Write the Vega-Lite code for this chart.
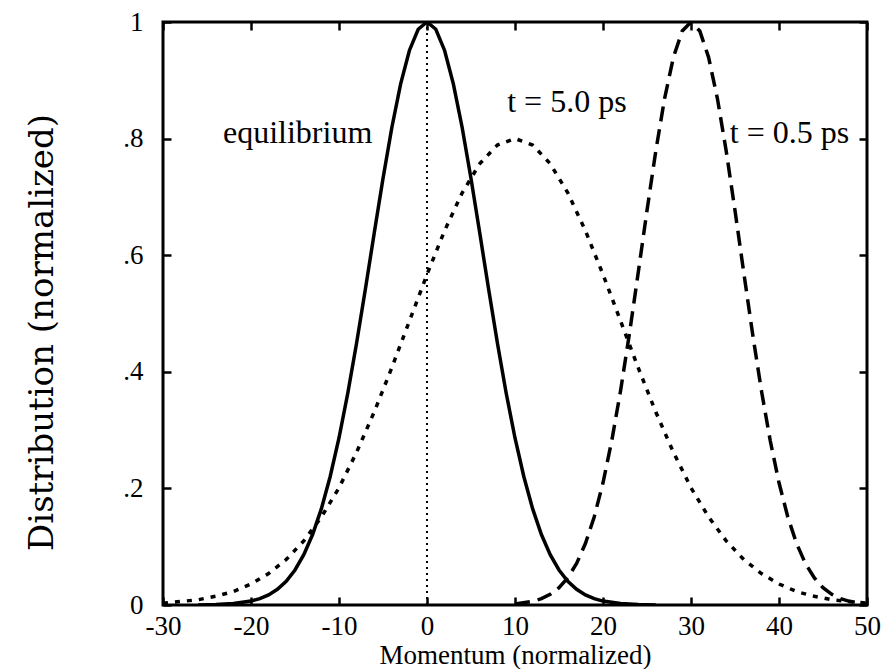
{
  "$schema": "https://vega.github.io/schema/vega-lite/v6.json",
  "autosize": {"type": "none"},
  "padding": {"left": 163, "top": 22, "right": 14, "bottom": 64},
  "width": 704,
  "height": 583,
  "background": "white",
  "config": {
    "view": {"stroke": "black", "strokeWidth": 3},
    "font": "Liberation Serif",
    "text": {"font": "Liberation Serif"},
    "axis": {"domainColor": "black", "domainWidth": 3, "tickColor": "black", "tickWidth": 2.5, "tickSize": -8, "grid": false, "labelFont": "Liberation Serif", "titleFont": "Liberation Serif", "labelColor": "black", "titleColor": "black", "labelFontSize": 22, "titleFontSize": 26, "titleFontWeight": "normal", "labelFlush": false, "labelOverlap": false, "labelBound": false}
  },
  "datasets": {
    "curves": [
      {"s": "eq", "x": -26, "y": 0.0002}, {"s": "eq", "x": -24, "y": 0.0007}, {"s": "eq", "x": -22, "y": 0.0024},
      {"s": "eq", "x": -20, "y": 0.0067}, {"s": "eq", "x": -19, "y": 0.011}, {"s": "eq", "x": -18, "y": 0.0174},
      {"s": "eq", "x": -17, "y": 0.027}, {"s": "eq", "x": -16, "y": 0.0408}, {"s": "eq", "x": -15, "y": 0.0601},
      {"s": "eq", "x": -14, "y": 0.0863}, {"s": "eq", "x": -13, "y": 0.1209}, {"s": "eq", "x": -12, "y": 0.1653},
      {"s": "eq", "x": -11, "y": 0.2204}, {"s": "eq", "x": -10, "y": 0.2865}, {"s": "eq", "x": -9, "y": 0.3633},
      {"s": "eq", "x": -8, "y": 0.4493}, {"s": "eq", "x": -7, "y": 0.542}, {"s": "eq", "x": -6, "y": 0.6376},
      {"s": "eq", "x": -5, "y": 0.7316}, {"s": "eq", "x": -4, "y": 0.8187}, {"s": "eq", "x": -3, "y": 0.8936},
      {"s": "eq", "x": -2, "y": 0.9512}, {"s": "eq", "x": -1, "y": 0.9876}, {"s": "eq", "x": 0, "y": 1.0},
      {"s": "eq", "x": 1, "y": 0.9876}, {"s": "eq", "x": 2, "y": 0.9512}, {"s": "eq", "x": 3, "y": 0.8936},
      {"s": "eq", "x": 4, "y": 0.8187}, {"s": "eq", "x": 5, "y": 0.7316}, {"s": "eq", "x": 6, "y": 0.6376},
      {"s": "eq", "x": 7, "y": 0.542}, {"s": "eq", "x": 8, "y": 0.4493}, {"s": "eq", "x": 9, "y": 0.3633},
      {"s": "eq", "x": 10, "y": 0.2865}, {"s": "eq", "x": 11, "y": 0.2204}, {"s": "eq", "x": 12, "y": 0.1653},
      {"s": "eq", "x": 13, "y": 0.1209}, {"s": "eq", "x": 14, "y": 0.0863}, {"s": "eq", "x": 15, "y": 0.0601},
      {"s": "eq", "x": 16, "y": 0.0408}, {"s": "eq", "x": 17, "y": 0.027}, {"s": "eq", "x": 18, "y": 0.0174},
      {"s": "eq", "x": 19, "y": 0.011}, {"s": "eq", "x": 20, "y": 0.0067}, {"s": "eq", "x": 22, "y": 0.0024},
      {"s": "eq", "x": 24, "y": 0.0007}, {"s": "eq", "x": 26, "y": 0.0002},

      {"s": "t5", "x": -30, "y": 0.003}, {"s": "t5", "x": -28, "y": 0.006}, {"s": "t5", "x": -26, "y": 0.009},
      {"s": "t5", "x": -24, "y": 0.015}, {"s": "t5", "x": -22, "y": 0.023}, {"s": "t5", "x": -20, "y": 0.036},
      {"s": "t5", "x": -18, "y": 0.054}, {"s": "t5", "x": -16, "y": 0.078}, {"s": "t5", "x": -14, "y": 0.11},
      {"s": "t5", "x": -12, "y": 0.151}, {"s": "t5", "x": -10, "y": 0.201}, {"s": "t5", "x": -8, "y": 0.262},
      {"s": "t5", "x": -6, "y": 0.331}, {"s": "t5", "x": -4, "y": 0.407}, {"s": "t5", "x": -2, "y": 0.487},
      {"s": "t5", "x": 0, "y": 0.567}, {"s": "t5", "x": 2, "y": 0.642}, {"s": "t5", "x": 4, "y": 0.707},
      {"s": "t5", "x": 6, "y": 0.757}, {"s": "t5", "x": 8, "y": 0.789}, {"s": "t5", "x": 10, "y": 0.8},
      {"s": "t5", "x": 12, "y": 0.789}, {"s": "t5", "x": 14, "y": 0.757}, {"s": "t5", "x": 16, "y": 0.707},
      {"s": "t5", "x": 18, "y": 0.642}, {"s": "t5", "x": 20, "y": 0.567}, {"s": "t5", "x": 22, "y": 0.487},
      {"s": "t5", "x": 24, "y": 0.407}, {"s": "t5", "x": 26, "y": 0.331}, {"s": "t5", "x": 28, "y": 0.262},
      {"s": "t5", "x": 30, "y": 0.201}, {"s": "t5", "x": 32, "y": 0.151}, {"s": "t5", "x": 34, "y": 0.11},
      {"s": "t5", "x": 36, "y": 0.078}, {"s": "t5", "x": 38, "y": 0.054}, {"s": "t5", "x": 40, "y": 0.036},
      {"s": "t5", "x": 42, "y": 0.023}, {"s": "t5", "x": 44, "y": 0.015}, {"s": "t5", "x": 46, "y": 0.009},
      {"s": "t5", "x": 48, "y": 0.006}, {"s": "t5", "x": 50, "y": 0.003},

      {"s": "t05", "x": 10, "y": 0.0019}, {"s": "t05", "x": 12, "y": 0.0063}, {"s": "t05", "x": 13, "y": 0.0109},
      {"s": "t05", "x": 14, "y": 0.0183}, {"s": "t05", "x": 15, "y": 0.0297}, {"s": "t05", "x": 16, "y": 0.0468},
      {"s": "t05", "x": 17, "y": 0.0713}, {"s": "t05", "x": 18, "y": 0.1054}, {"s": "t05", "x": 19, "y": 0.151},
      {"s": "t05", "x": 20, "y": 0.2096}, {"s": "t05", "x": 21, "y": 0.2821}, {"s": "t05", "x": 22, "y": 0.3679},
      {"s": "t05", "x": 23, "y": 0.4651}, {"s": "t05", "x": 24, "y": 0.5698}, {"s": "t05", "x": 25, "y": 0.6766},
      {"s": "t05", "x": 26, "y": 0.7788}, {"s": "t05", "x": 27, "y": 0.8688}, {"s": "t05", "x": 28, "y": 0.9394},
      {"s": "t05", "x": 29, "y": 0.9845}, {"s": "t05", "x": 30, "y": 1.0}, {"s": "t05", "x": 31, "y": 0.9845},
      {"s": "t05", "x": 32, "y": 0.9394}, {"s": "t05", "x": 33, "y": 0.8688}, {"s": "t05", "x": 34, "y": 0.7788},
      {"s": "t05", "x": 35, "y": 0.6766}, {"s": "t05", "x": 36, "y": 0.5698}, {"s": "t05", "x": 37, "y": 0.4651},
      {"s": "t05", "x": 38, "y": 0.3679}, {"s": "t05", "x": 39, "y": 0.2821}, {"s": "t05", "x": 40, "y": 0.2096},
      {"s": "t05", "x": 41, "y": 0.151}, {"s": "t05", "x": 42, "y": 0.1054}, {"s": "t05", "x": 43, "y": 0.0713},
      {"s": "t05", "x": 44, "y": 0.0468}, {"s": "t05", "x": 45, "y": 0.0297}, {"s": "t05", "x": 46, "y": 0.0183},
      {"s": "t05", "x": 47, "y": 0.0109}, {"s": "t05", "x": 48, "y": 0.0063}, {"s": "t05", "x": 50, "y": 0.0019}
    ],
    "labels": [
      {"label": "equilibrium", "x": -14.7, "y": 0.81},
      {"label": "t = 5.0 ps", "x": 15.9, "y": 0.862},
      {"label": "t = 0.5 ps", "x": 41.2, "y": 0.81}
    ],
    "vline": [{"x": 0, "y0": 0, "y1": 1}]
  },
  "resolve": {"axis": {"x": "independent", "y": "independent"}},
  "layer": [
    {
      "data": {"name": "vline"},
      "mark": {"type": "rule", "color": "black", "strokeWidth": 2, "strokeDash": [2, 4]},
      "encoding": {
        "x": {"field": "x", "type": "quantitative", "scale": {"domain": [-30, 50], "nice": false}, "axis": {"orient": "top", "values": [-30, -20, -10, 0, 10, 20, 30, 40, 50], "labels": false, "title": null, "domain": false}},
        "y": {"field": "y0", "type": "quantitative", "scale": {"domain": [0, 1], "nice": false}, "axis": {"orient": "right", "values": [0, 0.2, 0.4, 0.6, 0.8, 1], "labels": false, "title": null, "domain": false}},
        "y2": {"field": "y1"}
      }
    },
    {
      "data": {"name": "curves"},
      "transform": [{"filter": "datum.s == 'eq'"}],
      "mark": {"type": "line", "color": "black", "strokeWidth": 3.5, "clip": true},
      "encoding": {
        "x": {"field": "x", "type": "quantitative", "scale": {"domain": [-30, 50], "nice": false}, "axis": {"orient": "bottom", "values": [-30, -20, -10, 0, 10, 20, 30, 40, 50], "labelExpr": "'' + datum.value", "title": "Momentum (normalized)", "labelFont": "Liberation Serif", "labelFontSize": 27, "titleFont": "Liberation Serif", "titleFontSize": 27, "labelPadding": 16, "titleY": 58, "titleBaseline": "alphabetic", "domain": false}},
        "y": {"field": "y", "type": "quantitative", "scale": {"domain": [0, 1], "nice": false}, "axis": {"orient": "left", "values": [0, 0.2, 0.4, 0.6, 0.8, 1], "title": "Distribution (normalized)", "labelExpr": "datum.value == 0 ? '0' : datum.value == 1 ? '1' : replace(format(datum.value, '.1f'), '0.', '.')", "labelFont": "Liberation Serif", "labelFontSize": 27, "titleFont": "DejaVu Serif", "titleFontSize": 34, "labelPadding": 28, "titleX": -121, "titleY": 310, "titleAngle": -90, "titleBaseline": "middle", "titleAlign": "center", "domain": false}}
      }
    },
    {
      "data": {"name": "curves"},
      "transform": [{"filter": "datum.s == 't5'"}],
      "mark": {"type": "line", "color": "black", "strokeWidth": 3.5, "strokeDash": [5, 7], "clip": true},
      "encoding": {
        "x": {"field": "x", "type": "quantitative", "scale": {"domain": [-30, 50], "nice": false}, "axis": null},
        "y": {"field": "y", "type": "quantitative", "scale": {"domain": [0, 1], "nice": false}, "axis": null}
      }
    },
    {
      "data": {"name": "curves"},
      "transform": [{"filter": "datum.s == 't05'"}],
      "mark": {"type": "line", "color": "black", "strokeWidth": 3.5, "strokeDash": [15, 8], "clip": true},
      "encoding": {
        "x": {"field": "x", "type": "quantitative", "scale": {"domain": [-30, 50], "nice": false}, "axis": null},
        "y": {"field": "y", "type": "quantitative", "scale": {"domain": [0, 1], "nice": false}, "axis": null}
      }
    },
    {
      "data": {"name": "labels"},
      "mark": {"type": "text", "font": "Liberation Serif", "fontSize": 32, "color": "black", "align": "center", "baseline": "middle"},
      "encoding": {
        "x": {"field": "x", "type": "quantitative", "scale": {"domain": [-30, 50], "nice": false}, "axis": null},
        "y": {"field": "y", "type": "quantitative", "scale": {"domain": [0, 1], "nice": false}, "axis": null},
        "text": {"field": "label"}
      }
    }
  ]
}
